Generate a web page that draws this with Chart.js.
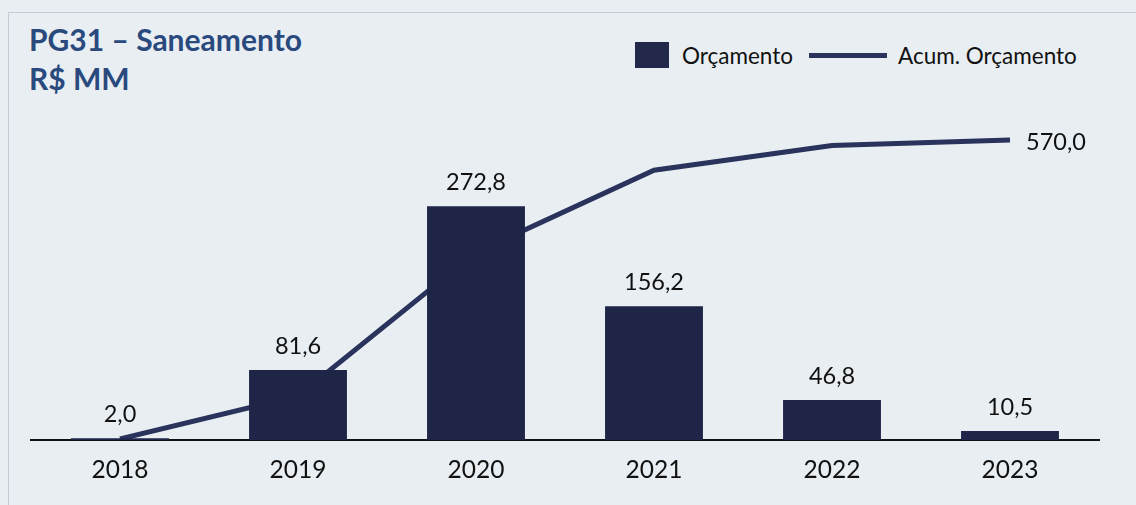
<!DOCTYPE html>
<html>
<head>
<meta charset="utf-8">
<script src="https://cdn.jsdelivr.net/npm/chart.js@4.4.1/dist/chart.umd.min.js"></script>
<style>
  html, body { margin: 0; padding: 0; background: #e9eef2; }
  #wrap { position: relative; width: 1136px; height: 505px; overflow: hidden; font-family: Lato, sans-serif; }
  #frame { position: absolute; left: 8px; top: 12px; width: 1300px; height: 700px;
           border-top: 1px solid #c3ccd6; border-left: 1px solid #c3ccd6; }
  #title { position: absolute; left: 29px; top: 20px; font-weight: 700; font-size: 30px;
           line-height: 39px; color: #2a4a7e; }
  #legend { position: absolute; left: 635px; top: 42px; display: flex; align-items: center;
            font-size: 22.5px; color: #111; height: 26px; }
  #legend .sq { width: 34px; height: 26px; background: #22284a; margin-right: 13px; }
  #legend .ln { width: 78px; height: 5px; background: #29335c; margin: 0 11px 0 16px; }
  canvas { position: absolute; left: 0; top: 0; }
</style>
</head>
<body>
<div id="wrap">
  <div id="frame"></div>
  <div id="title">PG31 – Saneamento<br>R$ MM</div>
  <div id="legend"><span class="sq"></span><span>Orçamento</span><span class="ln"></span><span>Acum. Orçamento</span></div>
  <canvas id="chart" width="1136" height="505"></canvas>
</div>
<script>
const years = ['2018', '2019', '2020', '2021', '2022', '2023'];
const orcamento = [2.0, 81.6, 272.8, 156.2, 46.8, 10.5];
const acumulado = [2.0, 83.6, 356.4, 512.6, 559.4, 570.0];

function fmt(v) {
  return v.toFixed(1).replace('.', ',');
}

// value labels above the bars, and the last point of the line
const valueLabels = {
  id: 'valueLabels',
  afterDatasetsDraw(chart) {
    const ctx = chart.ctx;
    ctx.save();
    ctx.font = '23.5px Lato';
    ctx.fillStyle = '#111';
    ctx.textAlign = 'center';
    ctx.textBaseline = 'alphabetic';
    chart.getDatasetMeta(0).data.forEach((bar, i) => {
      ctx.fillText(fmt(orcamento[i]), bar.x, bar.y - 16);
    });
    const pts = chart.getDatasetMeta(1).data;
    const i = pts.length - 1;
    ctx.textAlign = 'left';
    ctx.textBaseline = 'middle';
    ctx.fillText(fmt(acumulado[i]), pts[i].x + 16, pts[i].y + 2);
    ctx.restore();
  }
};

new Chart(document.getElementById('chart'), {
  data: {
    labels: years,
    datasets: [{
      type: 'bar',
      label: 'Orçamento',
      data: orcamento,
      backgroundColor: '#1f2547',
      barPercentage: 0.55,
      categoryPercentage: 1,
      yAxisID: 'y',
      order: 1
    }, {
      type: 'line',
      label: 'Acum. Orçamento',
      data: acumulado,
      borderColor: '#29335c',
      borderWidth: 5,
      pointRadius: 0,
      tension: 0,
      yAxisID: 'y2',
      order: 2
    }]
  },
  options: {
    responsive: false,
    devicePixelRatio: 1,
    animation: false,
    layout: { padding: { left: 31, right: 37, top: 100, bottom: 0 } },
    plugins: { legend: { display: false }, tooltip: { enabled: false } },
    scales: {
      x: {
        grid: { display: false },
        border: { display: true, color: '#111', width: 2 },
        ticks: { font: { family: 'Lato', size: 24.5 }, color: '#111', padding: 7 },
        afterFit(s) { s.height = 65; }
      },
      y: { display: false, min: 0, max: 397 },
      y2: { display: false, min: 0, max: 646, position: 'right' }
    }
  },
  plugins: [valueLabels]
});
</script>
</body>
</html>
